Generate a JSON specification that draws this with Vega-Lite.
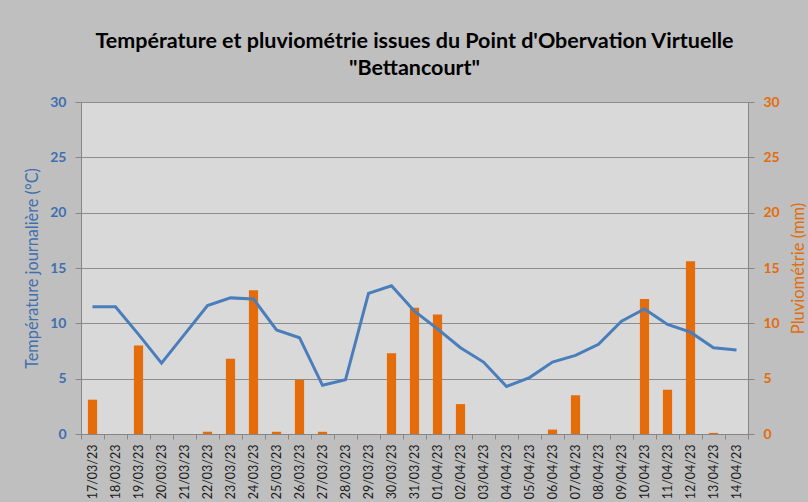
{
  "$schema": "https://vega.github.io/schema/vega-lite/v6.json",
  "width": 667,
  "height": 332,
  "autosize": {"type": "none"},
  "padding": {"left": 81, "top": 102, "right": 60, "bottom": 68},
  "background": "#BFBFBF",
  "config": {
    "view": {"fill": "#D9D9D9", "stroke": null},
    "font": "Lato"
  },
  "title": {
    "text": ["Température et pluviométrie issues du Point d'Obervation Virtuelle", "\"Bettancourt\""],
    "fontSize": 21.5,
    "fontWeight": "bold",
    "color": "#000000",
    "anchor": "middle",
    "lineHeight": 27,
    "offset": 16
  },
  "data": {
    "values": [
      {"date": "17/03/23", "temp": 11.5, "pluie": 3.1},
      {"date": "18/03/23", "temp": 11.5, "pluie": 0},
      {"date": "19/03/23", "temp": 9.0, "pluie": 8.0},
      {"date": "20/03/23", "temp": 6.4, "pluie": 0},
      {"date": "21/03/23", "temp": 9.0, "pluie": 0},
      {"date": "22/03/23", "temp": 11.6, "pluie": 0.2},
      {"date": "23/03/23", "temp": 12.3, "pluie": 6.8},
      {"date": "24/03/23", "temp": 12.2, "pluie": 13.0},
      {"date": "25/03/23", "temp": 9.4, "pluie": 0.2},
      {"date": "26/03/23", "temp": 8.7, "pluie": 4.9},
      {"date": "27/03/23", "temp": 4.4, "pluie": 0.2},
      {"date": "28/03/23", "temp": 4.9, "pluie": 0},
      {"date": "29/03/23", "temp": 12.7, "pluie": 0},
      {"date": "30/03/23", "temp": 13.4, "pluie": 7.3},
      {"date": "31/03/23", "temp": 11.1, "pluie": 11.4},
      {"date": "01/04/23", "temp": 9.5, "pluie": 10.8},
      {"date": "02/04/23", "temp": 7.8, "pluie": 2.7},
      {"date": "03/04/23", "temp": 6.5, "pluie": 0},
      {"date": "04/04/23", "temp": 4.3, "pluie": 0},
      {"date": "05/04/23", "temp": 5.1, "pluie": 0},
      {"date": "06/04/23", "temp": 6.5, "pluie": 0.4},
      {"date": "07/04/23", "temp": 7.1, "pluie": 3.5},
      {"date": "08/04/23", "temp": 8.1, "pluie": 0},
      {"date": "09/04/23", "temp": 10.2, "pluie": 0},
      {"date": "10/04/23", "temp": 11.3, "pluie": 12.2},
      {"date": "11/04/23", "temp": 9.9, "pluie": 4.0},
      {"date": "12/04/23", "temp": 9.2, "pluie": 15.6},
      {"date": "13/04/23", "temp": 7.8, "pluie": 0.1},
      {"date": "14/04/23", "temp": 7.6, "pluie": 0}
    ]
  },
  "encoding": {
    "x": {
      "field": "date",
      "type": "ordinal",
      "sort": null,
      "scale": {"paddingInner": 0, "paddingOuter": 0},
      "axis": {
        "title": null,
        "labelAngle": -90,
        "labelFontSize": 12.5,
        "labelColor": "#1a1a1a",
        "labelPadding": 5,
        "tickBand": "extent",
        "tickSize": 5,
        "tickColor": "#868686",
        "domainColor": "#868686",
        "grid": false
      }
    }
  },
  "layer": [
    {
      "mark": {"type": "bar", "color": "#E46C0A", "width": {"band": 0.4}},
      "encoding": {
        "y": {
          "field": "pluie",
          "type": "quantitative",
          "scale": {"domain": [0, 30]},
          "axis": {
            "orient": "right",
            "title": "Pluviométrie (mm)",
            "titleAngle": -90,
            "titleColor": "#E46C0A",
            "titleFontSize": 16.5,
            "titleFontWeight": "normal",
            "titlePadding": 27,
            "values": [0, 5, 10, 15, 20, 25, 30],
            "labelColor": "#E46C0A",
            "labelFontSize": 14,
            "labelFontWeight": "bold",
            "labelPadding": 9,
            "tickSize": 6,
            "tickColor": "#868686",
            "domainColor": "#868686",
            "grid": false
          }
        }
      }
    },
    {
      "mark": {"type": "line", "color": "#4A7EBB", "strokeWidth": 3},
      "encoding": {
        "y": {
          "field": "temp",
          "type": "quantitative",
          "scale": {"domain": [0, 30]},
          "axis": {
            "orient": "left",
            "title": "Température journalière (°C)",
            "titleColor": "#3F6FAF",
            "titleFontSize": 16.3,
            "titleFontWeight": "normal",
            "titlePadding": 9,
            "values": [0, 5, 10, 15, 20, 25, 30],
            "labelColor": "#3F6FAF",
            "labelFontSize": 14,
            "labelFontWeight": "bold",
            "labelPadding": 9,
            "tickSize": 6,
            "tickColor": "#868686",
            "domainColor": "#868686",
            "grid": true,
            "gridColor": "#8C8C8C",
            "gridWidth": 1
          }
        }
      }
    }
  ],
  "resolve": {"scale": {"y": "independent"}}
}
